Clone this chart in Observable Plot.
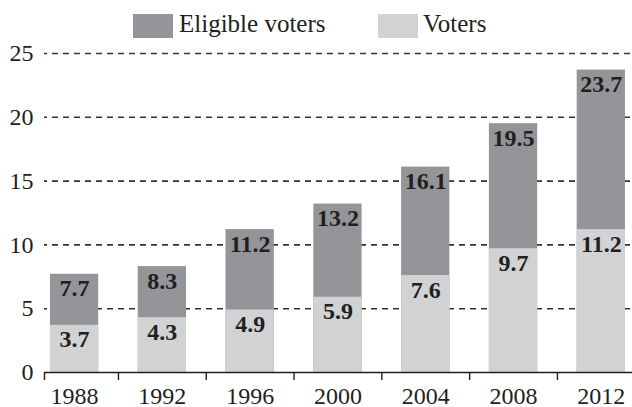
<!DOCTYPE html>
<html>
<head>
<meta charset="utf-8">
<script src="https://cdn.jsdelivr.net/npm/d3@7"></script>
<script src="https://cdn.jsdelivr.net/npm/@observablehq/plot@0.6"></script>
<style>
  html, body { margin: 0; padding: 0; background: #fff; }
  body { width: 632px; height: 407px; overflow: hidden; font-family: "Liberation Serif", "Times New Roman", serif; color: #231f20; }
  #legend { position: relative; height: 40px; }
  .sw { position: absolute; top: 14px; width: 40px; height: 24px; }
  .lt { position: absolute; top: 10px; font-size: 25px; line-height: 28px; white-space: nowrap; }
  svg { overflow: visible; }
</style>
</head>
<body>
<div id="legend"></div>
<div id="chart"></div>
<script>
const years = [1988, 1992, 1996, 2000, 2004, 2008, 2012];
const eligible = [7.7, 8.3, 11.2, 13.2, 16.1, 19.5, 23.7];
const voters = [3.7, 4.3, 4.9, 5.9, 7.6, 9.7, 11.2];
const seriesNames = ["Eligible voters", "Voters"];
const seriesColors = ["#939598", "#d1d2d4"];
const yTicks = [0, 5, 10, 15, 20, 25];
const xBoundaries = [1990, 1994, 1998, 2002, 2006, 2010];

const xDomain = [1986.63, 2013.42];
const halfWidth = 1.1;

const rowsE = years.map((y, i) => ({year: y, value: eligible[i]}));
const rowsV = years.map((y, i) => ({year: y, value: voters[i]}));

// legend
const legend = document.getElementById("legend");
const legendPos = [[133, 179], [378, 423]];
seriesNames.forEach((name, i) => {
  const sw = document.createElement("div");
  sw.className = "sw";
  sw.style.left = legendPos[i][0] + "px";
  sw.style.background = seriesColors[i];
  legend.appendChild(sw);
  const t = document.createElement("div");
  t.className = "lt";
  t.style.left = legendPos[i][1] + "px";
  t.textContent = name;
  legend.appendChild(t);
});

const ink = "#231f20";
const chart = Plot.plot({
  width: 632,
  height: 367,
  marginTop: 13,
  marginBottom: 35,
  marginLeft: 44,
  marginRight: 0,
  style: {fontFamily: "'Liberation Serif', 'Times New Roman', serif", color: ink, background: "#fff", overflow: "visible"},
  x: {type: "linear", domain: xDomain},
  y: {domain: [0, 25]},
  marks: [
    Plot.gridY(yTicks.filter(d => d > 0), {stroke: "#333", strokeOpacity: 1, strokeWidth: 1.6, strokeDasharray: "6,5", strokeDashoffset: 3}),
    Plot.rectY(rowsE, {x1: d => d.year - halfWidth, x2: d => d.year + halfWidth, y1: 0, y2: "value", fill: seriesColors[0]}),
    Plot.rectY(rowsV, {x1: d => d.year - halfWidth, x2: d => d.year + halfWidth, y1: 0, y2: "value", fill: seriesColors[1]}),
    Plot.text(rowsE, {x: "year", y: "value", text: d => d.value.toFixed(1), lineAnchor: "top", dy: 5, fontSize: 24, fontWeight: "bold", fill: ink}),
    Plot.text(rowsV, {x: "year", y: "value", text: d => d.value.toFixed(1), lineAnchor: "top", dy: 5, fontSize: 24, fontWeight: "bold", fill: ink}),
    Plot.ruleY([0], {stroke: ink, strokeWidth: 1.4}),
    Plot.axisY({ticks: yTicks, tickSize: 0, tickPadding: 11, fontSize: 24, label: null, fill: ink}),
    Plot.axisX({ticks: [xDomain[0], ...xBoundaries], tickSize: 8, tickFormat: () => "", stroke: ink, strokeWidth: 1.4, label: null}),
    Plot.axisX({ticks: years, tickSize: 0, tickPadding: 14, tickFormat: d => String(d), fontSize: 24, label: null, fill: ink})
  ]
});
document.getElementById("chart").appendChild(chart);
</script>
</body>
</html>
